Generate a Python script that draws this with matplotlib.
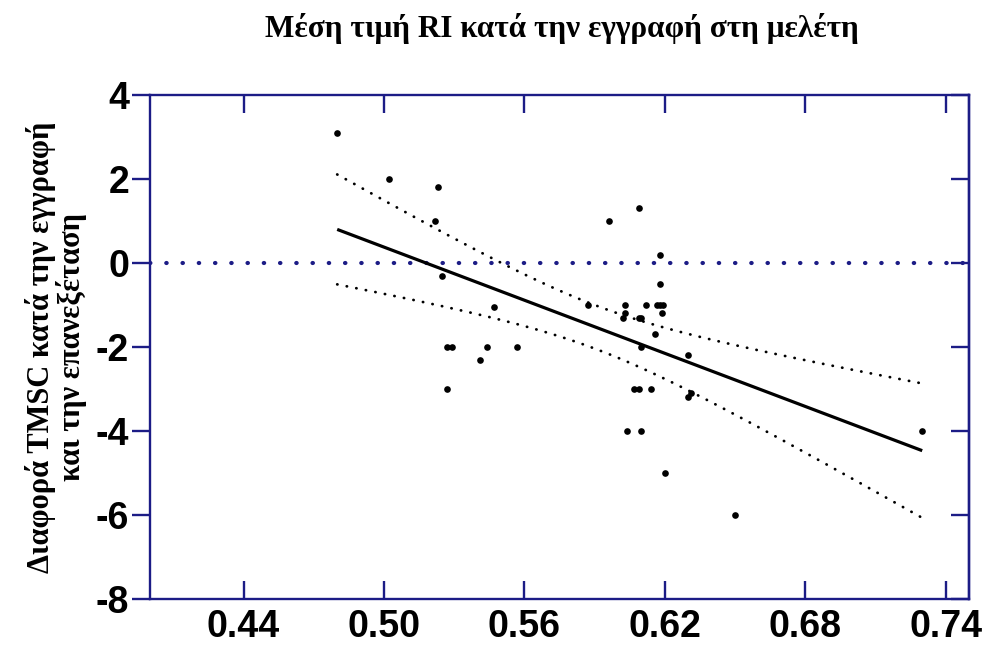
import numpy as np
import matplotlib
matplotlib.use("Agg")
import matplotlib.pyplot as plt

# ---- data ----
ri_mean = [0.480, 0.502, 0.523, 0.522, 0.525, 0.547, 0.527, 0.529, 0.544, 0.557,
           0.541, 0.527, 0.609, 0.596, 0.618, 0.618, 0.587, 0.603, 0.612, 0.6166,
           0.618, 0.6194, 0.619, 0.602, 0.603, 0.609, 0.610, 0.616, 0.610, 0.630,
           0.607, 0.609, 0.614, 0.630, 0.631, 0.604, 0.610, 0.620, 0.650, 0.730]
tmsc_diff = [3.1, 2.0, 1.8, 1.0, -0.3, -1.05, -2.0, -2.0, -2.0, -2.0,
             -2.3, -3.0, 1.3, 1.0, 0.2, -0.5, -1.0, -1.0, -1.0, -1.0,
             -1.0, -1.0, -1.2, -1.3, -1.2, -1.3, -1.3, -1.7, -2.0, -2.2,
             -3.0, -3.0, -3.0, -3.2, -3.1, -4.0, -4.0, -5.0, -6.0, -4.0]
x_ticks = [0.44, 0.50, 0.56, 0.62, 0.68, 0.74]
x_tick_labels = ["0.44", "0.50", "0.56", "0.62", "0.68", "0.74"]
y_ticks = [4, 2, 0, -2, -4, -6, -8]
y_tick_labels = ["4", "2", "0", "-2", "-4", "-6", "-8"]
t_crit = 2.024  # t(0.975, n-2)

title = "Μέση τιμή RI κατά την εγγραφή στη μελέτη"
ylabel = "Διαφορά TMSC κατά την εγγραφή\nκαι την επανεξέταση"

navy = "#1c1c86"

x = np.array(ri_mean)
y = np.array(tmsc_diff)
n = len(x)
slope, intercept = np.polyfit(x, y, 1)
resid = y - (slope * x + intercept)
s = np.sqrt(np.sum(resid ** 2) / (n - 2))
xm = x.mean()
sxx = np.sum((x - xm) ** 2)
xf = np.linspace(x.min(), x.max(), 200)
yf = slope * xf + intercept
half = t_crit * s * np.sqrt(1.0 / n + (xf - xm) ** 2 / sxx)

fig = plt.figure(figsize=(9.92, 6.45), dpi=100)
ax = fig.add_axes([150 / 992, 1 - 599 / 645, (969 - 150) / 992, (599 - 95) / 645])

ax.axhline(0, color=navy, lw=3.0, linestyle=(0, (0.1, 3.8)), dash_capstyle="round", zorder=1)
ax.plot(xf, yf, color="black", lw=2.3, solid_capstyle="butt", zorder=3)
ax.plot(xf, yf + half, color="black", lw=2.0, linestyle=(0, (0.1, 3.4)), dash_capstyle="round", zorder=2)
ax.plot(xf, yf - half, color="black", lw=2.0, linestyle=(0, (0.1, 3.4)), dash_capstyle="round", zorder=2)
ax.plot(x, y, "o", color="black", markersize=4.8, markeredgewidth=0, zorder=4)

ax.set_xlim(0.40, 0.75)
ax.set_ylim(-8, 4)

for sp in ax.spines.values():
    sp.set_color(navy)
    sp.set_linewidth(1.7)

ax.set_xticks(x_ticks)
ax.set_xticklabels(x_tick_labels)
ax.set_yticks(y_ticks)
ax.set_yticklabels(y_tick_labels)

for lab in ax.get_xticklabels() + ax.get_yticklabels():
    lab.set_fontfamily("Liberation Sans")
    lab.set_fontweight("bold")
    lab.set_fontsize(27)

ax.tick_params(axis="x", direction="in", length=13, width=1.7, color=navy,
               top=True, bottom=True, pad=7)
ax.tick_params(axis="y", which="both", direction="out", length=13, width=1.7,
               color=navy, left=True, right=False, pad=2)
# inward ticks on the right spine
ax2 = ax.secondary_yaxis("right")
ax2.set_yticks(y_ticks)
ax2.tick_params(direction="in", length=13, width=1.7, color=navy, labelright=False)
ax2.spines["right"].set_color(navy)
ax2.spines["right"].set_linewidth(1.7)

fig.text(562 / 992, 1 - 28 / 645, title, ha="center", va="center",
         family="Liberation Serif", weight="bold", fontsize=22.5)
fig.text(56 / 992, 1 - 347 / 645, ylabel, ha="center", va="center", rotation=90,
         family="Liberation Serif", weight="bold", fontsize=22, linespacing=1.0,
         multialignment="center")

fig.savefig("out.png", dpi=100)
